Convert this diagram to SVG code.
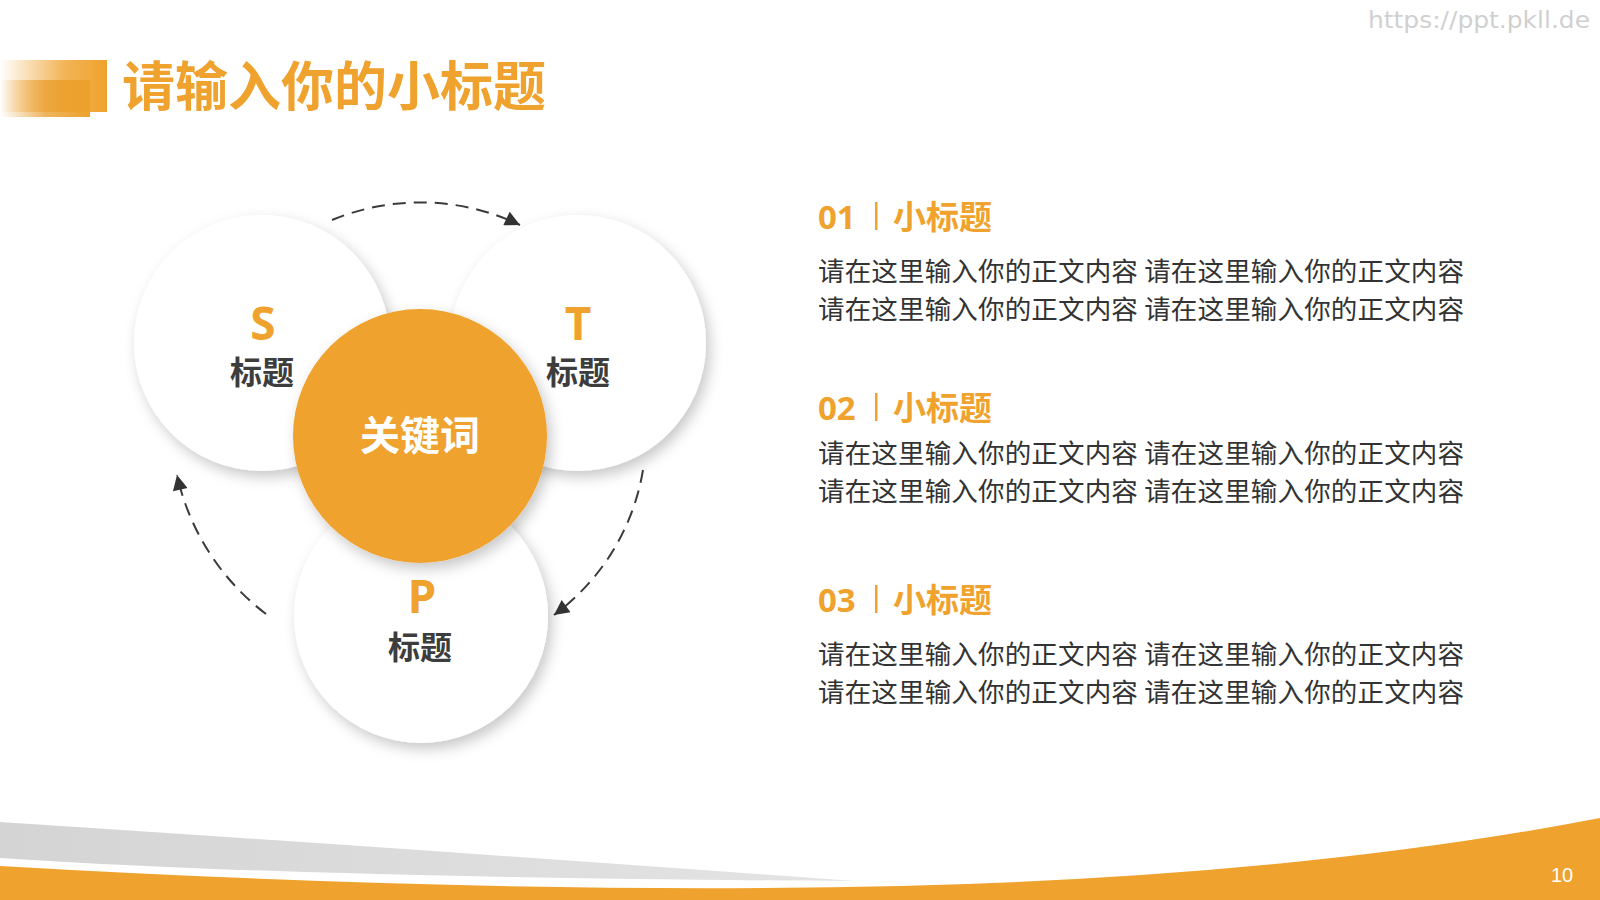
<svg xmlns="http://www.w3.org/2000/svg" width="1600" height="900" viewBox="0 0 1600 900">
<defs>
<style>
.cjk{font-family:"Noto Sans CJK SC","Noto Sans",sans-serif;}
.lat{font-family:"Open Sans","Noto Sans CJK SC",sans-serif;font-weight:700;}
.letter{font-family:"Open Sans","Noto Sans CJK SC",sans-serif;font-weight:700;font-size:46px;fill:#EFA22D;text-anchor:middle;}
.lbl{font-family:"Noto Sans CJK SC",sans-serif;font-weight:700;font-size:32px;fill:#3d3d3d;text-anchor:middle;}
.head{font-weight:700;font-size:33px;fill:#EFA22D;}
.body{font-family:"Noto Sans CJK SC",sans-serif;font-size:26.5px;fill:#333333;}
.wc{fill:#ffffff;filter:url(#sh);}
.dash{fill:none;stroke:#3a3a3a;stroke-width:2;stroke-dasharray:13 8;marker-end:url(#ah);}
</style>
<filter id="sh" x="-30%" y="-30%" width="160%" height="160%">
<feDropShadow dx="4" dy="6" stdDeviation="7" flood-color="#000" flood-opacity="0.22"/>
</filter>
<marker id="ah" viewBox="0 0 10 10" refX="10" refY="5" markerUnits="userSpaceOnUse" markerWidth="18" markerHeight="15" orient="auto">
<path d="M0,0 L10,5 L0,10 Z" fill="#333333"/>
</marker>
<linearGradient id="g1" x1="0" y1="0" x2="1" y2="0">
<stop offset="0" stop-color="#EFA22D" stop-opacity="0"/>
<stop offset="0.6" stop-color="#EFA22D" stop-opacity="0.8"/>
<stop offset="1" stop-color="#EFA22D" stop-opacity="1"/>
</linearGradient>
<linearGradient id="g2" x1="0" y1="0" x2="1" y2="0">
<stop offset="0" stop-color="#E69A28" stop-opacity="0"/>
<stop offset="0.5" stop-color="#E99D2A" stop-opacity="0.75"/>
<stop offset="1" stop-color="#EDA02C" stop-opacity="1"/>
</linearGradient>
<linearGradient id="gg" x1="0" y1="0" x2="1" y2="0">
<stop offset="0" stop-color="#d4d4d4"/>
<stop offset="1" stop-color="#e4e4e4"/>
</linearGradient>
</defs>
<rect width="1600" height="900" fill="#ffffff"/>

<g id="watermark">
<text x="1590" y="28" text-anchor="end" font-family="DejaVu Sans, sans-serif" font-size="23" fill="#d0d0d0" textLength="222" lengthAdjust="spacingAndGlyphs">https://ppt.pkll.de</text>
</g>

<g id="title">
<rect x="0" y="60" width="107" height="52" fill="url(#g1)"/>
<rect x="0" y="80" width="90" height="37" fill="url(#g2)"/>
<text x="122" y="106" class="cjk" font-weight="700" font-size="53" fill="#EFA22D">请输入你的小标题</text>
</g>

<g id="node-S">
<circle cx="262" cy="343" r="128" class="wc"/>
<text x="263" y="340" class="letter">S</text>
<text x="262" y="384" class="lbl">标题</text>
</g>
<g id="node-T">
<circle cx="578" cy="343" r="128" class="wc"/>
<text x="578" y="340" class="letter">T</text>
<text x="578" y="384" class="lbl">标题</text>
</g>
<g id="node-P">
<circle cx="421" cy="616" r="127" class="wc"/>
<text x="422" y="613" class="letter">P</text>
<text x="420" y="659" class="lbl">标题</text>
</g>
<g id="node-center">
<circle cx="420" cy="436" r="127" fill="#EFA22D" filter="url(#sh)"/>
<text x="420" y="450" class="cjk" font-weight="700" font-size="40" fill="#ffffff" text-anchor="middle">关键词</text>
</g>

<g id="connectors">
<path class="dash" d="M332,220 A231,231 0 0 1 520,225"/>
<path class="dash" d="M643,470 A226,226 0 0 1 554,615"/>
<path class="dash" d="M266,614 A240,240 0 0 1 177,475"/>
</g>

<g id="item-01">
<text y="229" class="head"><tspan x="818" class="lat">01</tspan></text>
<rect x="875" y="202" width="2.5" height="28" fill="#EFA22D"/>
<text x="893" y="229" class="head cjk">小标题</text>
<text x="818" y="281" class="body" textLength="646" lengthAdjust="spacing">请在这里输入你的正文内容 请在这里输入你的正文内容</text>
<text x="818" y="319" class="body" textLength="646" lengthAdjust="spacing">请在这里输入你的正文内容 请在这里输入你的正文内容</text>
</g>
<g id="item-02">
<text y="420" class="head"><tspan x="818" class="lat">02</tspan></text>
<rect x="875" y="393" width="2.5" height="28" fill="#EFA22D"/>
<text x="893" y="420" class="head cjk">小标题</text>
<text x="818" y="463" class="body" textLength="646" lengthAdjust="spacing">请在这里输入你的正文内容 请在这里输入你的正文内容</text>
<text x="818" y="501" class="body" textLength="646" lengthAdjust="spacing">请在这里输入你的正文内容 请在这里输入你的正文内容</text>
</g>
<g id="item-03">
<text y="612" class="head"><tspan x="818" class="lat">03</tspan></text>
<rect x="875" y="585" width="2.5" height="28" fill="#EFA22D"/>
<text x="893" y="612" class="head cjk">小标题</text>
<text x="818" y="664" class="body" textLength="646" lengthAdjust="spacing">请在这里输入你的正文内容 请在这里输入你的正文内容</text>
<text x="818" y="702" class="body" textLength="646" lengthAdjust="spacing">请在这里输入你的正文内容 请在这里输入你的正文内容</text>
</g>

<g id="footer">
<path d="M0,822 Q400,848 855,881 Q300,878 0,858 Z" fill="url(#gg)"/>
<path d="M0,866 Q500,895 900,886 Q1300,876 1600,818 L1600,900 L0,900 Z" fill="#EFA22D"/>
<text x="1562" y="882" text-anchor="middle" font-family="Liberation Sans, sans-serif" font-size="20" fill="#ffffff">10</text>
</g>
</svg>
